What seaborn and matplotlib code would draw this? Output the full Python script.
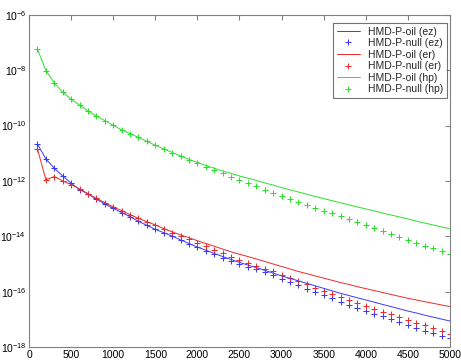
import numpy as np
import pandas as pd
import matplotlib
matplotlib.use("Agg")
import matplotlib.pyplot as plt
from matplotlib.lines import Line2D
import seaborn as sns
from matplotlib.ticker import FixedLocator, LogFormatterSciNotation

# x positions (100 .. 5000 step 100)
x = list(range(100, 5001, 100))

# log10 values
hp_null_log = [-7.24, -8.01, -8.46, -8.79, -9.05, -9.26, -9.47, -9.66, -9.82, -9.99,
               -10.15, -10.29, -10.43, -10.57, -10.71, -10.84, -10.98, -11.11, -11.23, -11.35,
               -11.48, -11.60, -11.72, -11.84, -11.97, -12.08, -12.20, -12.31, -12.42, -12.53,
               -12.64, -12.76, -12.86, -12.96, -13.07, -13.17, -13.28, -13.38, -13.49, -13.60,
               -13.71, -13.81, -13.91, -14.02, -14.13, -14.24, -14.34, -14.44, -14.54, -14.64]
hp_oil_log = [-7.24, -8.01, -8.46, -8.79, -9.05, -9.26, -9.47, -9.66, -9.82, -9.99,
              -10.15, -10.29, -10.43, -10.57, -10.71, -10.84, -10.97, -11.10, -11.22, -11.33,
              -11.44, -11.54, -11.64, -11.73, -11.82, -11.90, -11.98, -12.07, -12.15, -12.24,
              -12.32, -12.40, -12.48, -12.56, -12.64, -12.71, -12.79, -12.86, -12.94, -13.01,
              -13.08, -13.16, -13.23, -13.30, -13.37, -13.45, -13.52, -13.59, -13.66, -13.73]
er_null_log = [-10.84, -11.96, -11.84, -12.00, -12.13, -12.29, -12.46, -12.63, -12.78, -12.94,
               -13.07, -13.22, -13.35, -13.48, -13.60, -13.75, -13.88, -13.99, -14.11, -14.24,
               -14.36, -14.49, -14.61, -14.75, -14.85, -14.96, -15.07, -15.17, -15.26, -15.38,
               -15.49, -15.62, -15.73, -15.85, -15.96, -16.07, -16.19, -16.30, -16.41, -16.52,
               -16.61, -16.73, -16.82, -16.91, -17.02, -17.12, -17.21, -17.31, -17.41, -17.54]
er_oil_log = [-10.84, -11.96, -11.84, -12.00, -12.13, -12.29, -12.46, -12.63, -12.78, -12.94,
              -13.07, -13.22, -13.35, -13.47, -13.59, -13.72, -13.84, -13.95, -14.05, -14.16,
              -14.26, -14.36, -14.46, -14.56, -14.65, -14.73, -14.82, -14.91, -15.00, -15.09,
              -15.18, -15.27, -15.35, -15.43, -15.51, -15.59, -15.67, -15.74, -15.82, -15.89,
              -15.96, -16.03, -16.10, -16.17, -16.24, -16.30, -16.36, -16.42, -16.48, -16.54]
ez_null_log = [-10.67, -11.20, -11.54, -11.82, -12.08, -12.31, -12.47, -12.66, -12.83, -12.99,
               -13.14, -13.29, -13.46, -13.60, -13.75, -13.87, -13.99, -14.13, -14.26, -14.40,
               -14.52, -14.65, -14.77, -14.89, -15.00, -15.10, -15.19, -15.29, -15.41, -15.53,
               -15.64, -15.76, -15.90, -16.01, -16.13, -16.24, -16.37, -16.49, -16.60, -16.70,
               -16.81, -16.89, -16.99, -17.08, -17.20, -17.30, -17.41, -17.50, -17.60, -17.68]
ez_oil_log = [-10.67, -11.20, -11.54, -11.82, -12.08, -12.31, -12.47, -12.66, -12.83, -12.99,
              -13.14, -13.29, -13.46, -13.60, -13.75, -13.87, -13.99, -14.13, -14.26, -14.39,
              -14.50, -14.62, -14.73, -14.84, -14.94, -15.04, -15.13, -15.23, -15.33, -15.43,
              -15.52, -15.61, -15.70, -15.79, -15.88, -15.97, -16.06, -16.14, -16.22, -16.30,
              -16.38, -16.46, -16.54, -16.62, -16.70, -16.77, -16.85, -16.92, -16.99, -17.06]

labels = ["HMD-P-oil (ez)", "HMD-P-null (ez)", "HMD-P-oil (er)",
          "HMD-P-null (er)", "HMD-P-oil (hp)", "HMD-P-null (hp)"]
series = [ez_oil_log, ez_null_log, er_oil_log, er_null_log, hp_oil_log, hp_null_log]
colors = ["#3a3aff", "#3a3aff", "#ee2a2a", "#ee2a2a", "#2ddf2d", "#2ddf2d"]
x_ticks = [0, 500, 1000, 1500, 2000, 2500, 3000, 3500, 4000, 4500, 5000]
y_ticks = [1e-18, 1e-16, 1e-14, 1e-12, 1e-10, 1e-8, 1e-6]

sns.set_style("white")
plt.rcParams["font.family"] = ["Liberation Sans", "DejaVu Sans"]
plt.rcParams["mathtext.fontset"] = "custom"
plt.rcParams["mathtext.rm"] = "Liberation Sans"
plt.rcParams["mathtext.it"] = "Liberation Sans"
plt.rcParams["mathtext.default"] = "regular"

fig = plt.figure(figsize=(4.61, 3.63), dpi=100)
ax = fig.add_axes([0.063, 0.044, 0.913, 0.915])

handles = []
for vals, lab, col in zip(series, labels, colors):
    df = pd.DataFrame({"x": x, "y": np.power(10.0, vals)})
    if "oil" in lab:
        sns.lineplot(data=df, x="x", y="y", ax=ax, color=col, linewidth=0.7,
                     estimator=None, sort=False, legend=False)
        handles.append(Line2D([], [], color=col, linewidth=0.7))
    else:
        sns.scatterplot(data=df, x="x", y="y", ax=ax, color=col, marker="+",
                        s=22, linewidth=0.75, legend=False)
        handles.append(Line2D([], [], color=col, linestyle="none", marker="+",
                              markersize=5, markeredgewidth=0.75))

ax.set_yscale("log")
ax.set_xlim(0, 5000)
ax.set_ylim(1e-18, 1e-6)
ax.xaxis.set_major_locator(FixedLocator(x_ticks))
ax.yaxis.set_major_locator(FixedLocator(y_ticks))
ax.yaxis.set_minor_locator(FixedLocator([]))
ax.yaxis.set_major_formatter(LogFormatterSciNotation())
ax.set_xlabel("")
ax.set_ylabel("")

gray = "#808080"
for s in ax.spines.values():
    s.set_visible(True)
    s.set_color(gray)
    s.set_linewidth(0.8)
ax.tick_params(axis="both", which="major", direction="in", length=3.5, width=0.8,
               color=gray, labelsize=7.5, labelcolor="black", top=True, right=True,
               pad=2)
ax.tick_params(axis="y", which="minor", left=False, right=False)

leg = ax.legend(handles, labels, loc="upper right", bbox_to_anchor=(0.993, 0.976),
                borderaxespad=0, fontsize=7.5, frameon=True, fancybox=False,
                handlelength=2.2, handletextpad=0.8, borderpad=0.35, labelspacing=0.15)
leg.get_frame().set_edgecolor("#505050")
leg.get_frame().set_linewidth(0.8)

fig.savefig("out.png", dpi=100)
